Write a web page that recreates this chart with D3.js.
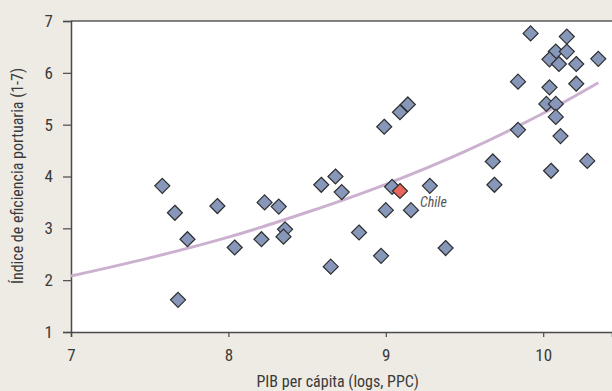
<!DOCTYPE html>
<html lang="es">
<head>
<meta charset="UTF-8">
<title>Eficiencia portuaria vs PIB per cápita</title>
<style>
    body { margin: 0; background: #eeebe4; }
    svg { display: block; }
    text { font-family: "Liberation Sans Narrow", "Roboto Condensed", "Liberation Sans", sans-serif; fill: #3a3a3a; }
    .tick text { font-size: 17px; }
    .axis-title { font-size: 16px; }
    .point { fill: #8797ba; stroke: #2e2e2e; stroke-width: 1.2px; }
    .chile { fill: #e8665e; }
    .trend { fill: none; stroke: #cbb1cf; stroke-width: 3px; }
    .chile-label { font-size: 14px; font-style: italic; fill: #555; }
</style>
</head>
<body>
<svg width="612" height="391"></svg>
<script src="https://d3js.org/d3.v7.min.js"></script>
<script>
// log GDP per capita (PPP) and port efficiency index
var gdpLog = [7.58, 7.66, 7.74, 7.68, 7.93, 8.04, 8.23, 8.32, 8.21, 8.36, 8.35,
              8.59, 8.68, 8.72, 8.65, 8.83, 8.99, 9.09, 9.14, 9.04, 9.28, 9.00,
              9.16, 8.97, 9.38, 9.92, 10.15, 10.08, 10.15, 10.04, 10.10, 10.21,
              10.35, 9.84, 10.04, 10.21, 10.02, 10.08, 10.08, 9.84, 10.11, 9.68,
              10.28, 10.05, 9.69];
var portIndex = [3.82, 3.30, 2.79, 1.62, 3.43, 2.63, 3.50, 3.42, 2.79, 2.98, 2.84,
                 3.84, 4.00, 3.70, 2.26, 2.92, 4.96, 5.24, 5.39, 3.80, 3.82, 3.35,
                 3.35, 2.47, 2.62, 6.76, 6.70, 6.41, 6.41, 6.26, 6.17, 6.17,
                 6.27, 5.83, 5.72, 5.79, 5.40, 5.40, 5.15, 4.90, 4.78, 4.29,
                 4.30, 4.11, 3.84];

var chile = { gdp: 9.09, index: 3.72, name: "Chile" };

// trend line as drawn in the figure
var trendX = [7, 7.5, 8, 8.5, 9, 9.5, 10, 10.35];
var trendY = [2.08, 2.43, 2.83, 3.31, 3.85, 4.48, 5.22, 5.81];

var xTicks = [7, 8, 9, 10];
var yTicks = [1, 2, 3, 4, 5, 6, 7];

var svg = d3.select("svg"),
    width = +svg.attr("width"),
    height = +svg.attr("height");

var margin = { top: 21, right: 0, bottom: 59, left: 71 };

var x = d3.scaleLinear()
    .domain([7, 7 + (width - margin.left - margin.right) / 157.4])
    .range([margin.left, width - margin.right]);

var y = d3.scaleLinear()
    .domain([1, 7])
    .range([height - margin.bottom, margin.top]);

svg.append("rect")
    .attr("width", width)
    .attr("height", height)
    .attr("fill", "#eeebe4");

svg.append("rect")
    .attr("x", x.range()[0])
    .attr("y", y(7))
    .attr("width", x.range()[1] - x.range()[0])
    .attr("height", y(1) - y(7))
    .attr("fill", "#fff");

// top border of the plot
svg.append("line")
    .attr("x1", x.range()[0]).attr("x2", x.range()[1])
    .attr("y1", y(7)).attr("y2", y(7))
    .attr("stroke", "#5a5a5a")
    .attr("stroke-width", 1.5);

var xAxis = svg.append("g")
    .attr("transform", "translate(0," + y(1) + ")")
    .call(d3.axisBottom(x).tickValues(xTicks).tickSize(5).tickPadding(12).tickFormat(d3.format("d")));

var yAxis = svg.append("g")
    .attr("transform", "translate(" + x(7) + ",0)")
    .call(d3.axisLeft(y).tickValues(yTicks).tickSize(8).tickPadding(10).tickFormat(d3.format("d")));

[xAxis, yAxis].forEach(function(g) {
    g.select(".domain").attr("stroke", "#4a4a4a").attr("stroke-width", 1.5);
    g.selectAll(".tick line").attr("stroke", "#4a4a4a").attr("stroke-width", 1.2);
    g.selectAll(".tick text").attr("fill", "#3a3a3a");
    g.attr("font-family", null).attr("font-size", null);
});

svg.append("text")
    .attr("class", "axis-title")
    .attr("x", (x(7) + x(10.35)) / 2 + 3)
    .attr("y", 387)
    .attr("text-anchor", "middle")
    .text("PIB per cápita (logs, PPC)");

svg.append("text")
    .attr("class", "axis-title")
    .attr("transform", "translate(23," + 176 + ") rotate(-90)")
    .attr("text-anchor", "middle")
    .text("Índice de eficiencia portuaria (1-7)");

var line = d3.line()
    .x(function(d) { return x(d[0]); })
    .y(function(d) { return y(d[1]); })
    .curve(d3.curveCatmullRom);

svg.append("path")
    .datum(d3.zip(trendX, trendY))
    .attr("class", "trend")
    .attr("d", line);

var diamond = "M0,-7.5L7.5,0L0,7.5L-7.5,0Z";

svg.append("g")
    .selectAll("path")
    .data(d3.zip(gdpLog, portIndex))
    .enter().append("path")
    .attr("class", "point")
    .attr("d", diamond)
    .attr("transform", function(d) { return "translate(" + x(d[0]) + "," + y(d[1]) + ")"; });

svg.append("path")
    .attr("class", "point chile")
    .attr("d", diamond)
    .attr("transform", "translate(" + x(chile.gdp) + "," + y(chile.index) + ")");

svg.append("text")
    .attr("class", "chile-label")
    .attr("x", x(chile.gdp) + 20)
    .attr("y", y(chile.index) + 16)
    .text(chile.name);
</script>
</body>
</html>
